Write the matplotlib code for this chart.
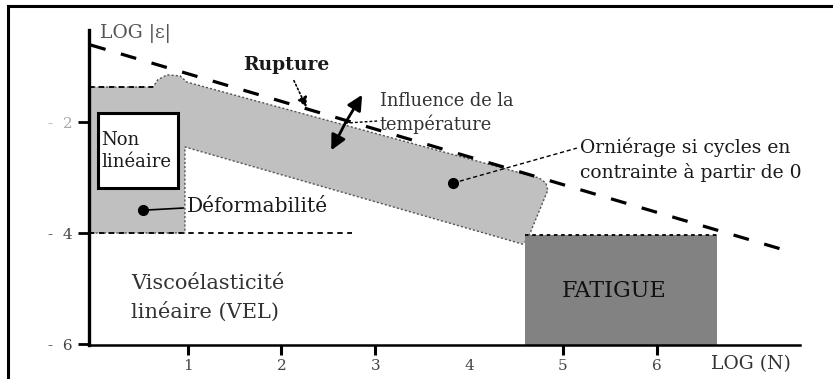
import matplotlib
matplotlib.use("Agg")
import matplotlib.pyplot as plt
from matplotlib.patches import Polygon, Rectangle

plt.rcParams['font.family'] = ['DejaVu Serif']

# ---- data (x = log N, y = log |eps|) ----
x_ticks = [1, 2, 3, 4, 5, 6]
x_tick_labels = ["1", "2", "3", "4", "5", "6"]
y_ticks = [-2, -4, -6]
y_tick_labels = ["-  2", "-  4", "-  6"]

# light grey domain (non linear + deformability band)
band_x = [-0.05, 0.63, 0.68, 0.78, 0.92, 0.99, 4.75, 4.82, 4.84, 4.62, 4.57, 0.97, 0.97, -0.05]
band_y = [-1.37, -1.37, -1.24, -1.15, -1.17, -1.28, -3.01, -3.10, -3.23, -4.13, -4.20, -2.45, -4.00, -4.00]

# rupture line
rupture_x = [-0.04, 7.37]
rupture_y = [-0.61, -4.31]

# non linear box
nl_box_x = [0.04, 0.90]
nl_box_y = [-3.19, -1.84]

# fatigue domain
fat_x = [4.60, 6.64]
fat_y = [-6.02, -4.04]

# dotted limits
top_lim_x = [-0.05, 0.63]
top_lim_y = [-1.37, -1.37]
low_lim_x = [-0.05, 2.75]
low_lim_y = [-4.00, -4.00]

# annotation anchor points
defo_dot = (0.52, -3.59)
defo_txt = (0.95, -3.55)
orn_dot = (3.83, -3.10)
orn_txt = (5.15, -2.47)
temp_center = (2.68, -2.02)
temp_up = (2.86, -1.51)
temp_down = (2.53, -2.51)
rupt_from = (2.12, -1.21)
rupt_to = (2.28, -1.78)

W, H = 833, 379
fig = plt.figure(figsize=(W / 100, H / 100), dpi=100)
ax = fig.add_axes([89 / W, 1 - 345 / H, (800 - 89) / W, (345 - 30) / H])
ax.set_xlim(-0.053, 7.53)
ax.set_ylim(-6.018, -0.342)

# frame around the figure
fig.add_artist(Rectangle((8 / W, -0.5), 3, 0.5 + (1 - 6 / H), transform=fig.transFigure,
                         fill=False, lw=2.2, edgecolor='black'))

light = '#c0c0c0'
dark = '#828282'
tc = '#1a1a1a'

ax.add_patch(Polygon(list(zip(band_x, band_y)), closed=True, facecolor=light,
                     edgecolor='#555555', lw=1.0, ls=(0, (1.5, 1.5)), zorder=1))
ax.add_patch(Rectangle((fat_x[0], fat_y[0]), fat_x[1] - fat_x[0], fat_y[1] - fat_y[0],
                       facecolor=dark, edgecolor='none', zorder=1))
ax.plot([fat_x[0], fat_x[1]], [fat_y[1], fat_y[1]], color='black', lw=1.3,
        ls=(0, (2, 2)), zorder=2)
ax.add_patch(Rectangle((nl_box_x[0], nl_box_y[0]), nl_box_x[1] - nl_box_x[0],
                       nl_box_y[1] - nl_box_y[0], facecolor='white', edgecolor='black',
                       lw=2.2, zorder=3))
ax.plot(top_lim_x, top_lim_y, color='black', lw=1.3, ls=(0, (3, 2.5)), zorder=2)
ax.plot(low_lim_x, low_lim_y, color='black', lw=1.3, ls=(0, (3, 2.5)), zorder=2)
ax.plot(rupture_x, rupture_y, color='black', lw=2.3, ls=(0, (5, 5)), zorder=4)

# texts
fs = 13.5
ax.text(0.06, -0.40, "LOG |ε|", fontsize=13.5, color='#555555', va='center', ha='left',
        clip_on=False)
ax.text(2.05, -0.97, "Rupture", fontsize=13.5, fontweight='bold', color=tc,
        va='center', ha='center')
ax.annotate("", xy=rupt_to, xytext=rupt_from,
            arrowprops=dict(arrowstyle='-|>,head_length=0.6,head_width=0.3',
                            color='black', lw=1.2, ls=(0, (1, 1.5))))
ax.text(3.05, -1.84, "Influence de la\ntempérature", fontsize=12.8, color='#333333',
        va='center', ha='left', linespacing=1.3)
for tip in (temp_up, temp_down):
    ax.annotate("", xy=tip, xytext=temp_center,
                arrowprops=dict(arrowstyle='-|>,head_length=0.9,head_width=0.45',
                                color='black', lw=2.0, shrinkA=0, shrinkB=0))
ax.plot([temp_center[0], 3.04], [temp_center[1], -1.98], color='black', lw=1.0,
        ls=(0, (2, 1.5)))
ax.text(0.075, -2.52, "Non\nlinéaire", fontsize=13, color=tc, va='center', ha='left',
        linespacing=1.3, zorder=5)
ax.text(5.18, -2.68, "Orniérage si cycles en\ncontrainte à partir de 0", fontsize=fs,
        color=tc, va='center', ha='left', linespacing=1.45)
ax.plot([orn_dot[0], orn_txt[0]], [orn_dot[1], orn_txt[1]], color='black', lw=1.0,
        ls=(0, (3, 2)))
ax.plot(*orn_dot, 'o', color='black', ms=7, zorder=6)
ax.text(0.99, -3.53, "Déformabilité", fontsize=14.5, color=tc, va='center', ha='left')
ax.plot([defo_dot[0], defo_txt[0]], [defo_dot[1], defo_txt[1]], color='black', lw=1.2)
ax.plot(*defo_dot, 'o', color='black', ms=7, zorder=6)
ax.text(0.40, -5.17, "Viscoélasticité\nlinéaire (VEL)", fontsize=15, color='#333333',
        va='center', ha='left', linespacing=1.55)
ax.text(5.55, -5.05, "FATIGUE", fontsize=16, color='#111111', va='center', ha='center')
ax.text(6.58, -6.36, "LOG (N)", fontsize=13.5, color='#333333', va='center', ha='left',
        clip_on=False)

# axes
for s in ('top', 'right'):
    ax.spines[s].set_visible(False)
ax.spines['left'].set_linewidth(2.4)
ax.spines['bottom'].set_linewidth(1.8)
ax.set_xticks(x_ticks)
ax.set_xticklabels(x_tick_labels, fontsize=11, color='#444444')
ax.set_yticks(y_ticks)
ax.set_yticklabels(y_tick_labels, fontsize=11, color='#444444')
ax.get_yticklabels()[0].set_color('#aaaaaa')
ax.tick_params(axis='x', direction='out', length=7, width=2.2, pad=3)
ax.tick_params(axis='y', direction='out', length=8, width=2.0, pad=4)
ax.xaxis.get_major_ticks()[3].tick1line.set_visible(False)

fig.savefig("out.png", dpi=100)
